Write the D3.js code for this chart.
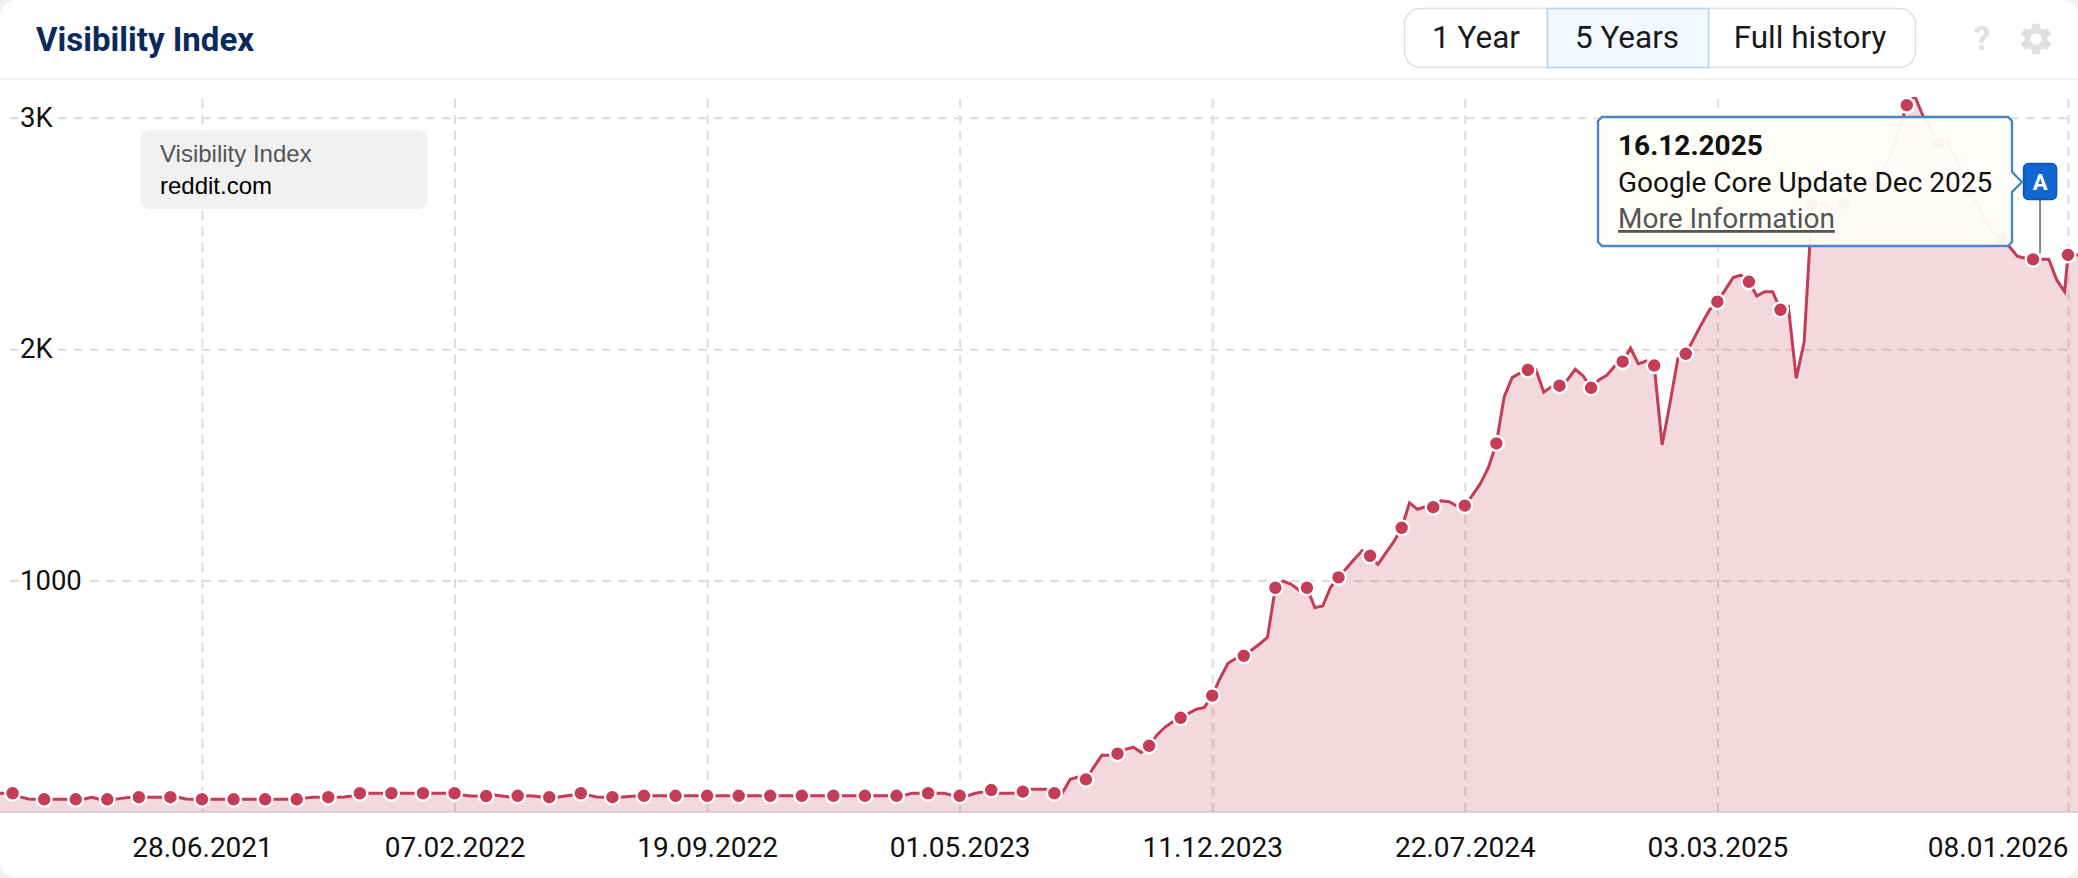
<!DOCTYPE html>
<html>
<head>
<meta charset="utf-8">
<title>Visibility Index</title>
<script src="https://cdn.jsdelivr.net/npm/d3@7"></script>
<style>
  html, body { margin: 0; padding: 0; background: #f0f0f0; }
  svg { display: block; font-family: Roboto, sans-serif; }
</style>
</head>
<body>
<div id="chart"></div>
<script>
// weekly values, first one is 28.12.2020, one row = 4 weeks
const weeklyValues = [
  81, 81,
  81, 65, 56, 55,
  55, 55, 55, 55,
  55, 55, 64, 55,
  55, 55, 60, 64,
  64, 64, 64, 64,
  64, 64, 56, 55,
  55, 55, 55, 55,
  55, 55, 55, 55,
  55, 55, 55, 55,
  55, 60, 64, 64,
  64, 64, 65, 69,
  81, 81, 81, 81,
  81, 81, 81, 81,
  81, 81, 81, 81,
  81, 73, 69, 69,
  69, 73, 69, 65,
  70, 70, 69, 65,
  64, 64, 69, 73,
  81, 73, 65, 64,
  64, 64, 67, 69,
  70, 70, 70, 70,
  70, 70, 70, 70,
  70, 70, 70, 70,
  70, 70, 70, 70,
  70, 70, 70, 70,
  70, 70, 70, 70,
  70, 70, 70, 70,
  70, 70, 70, 70,
  70, 73, 81, 81,
  81, 81, 81, 73,
  70, 70, 81, 87,
  95, 81, 81, 81,
  88, 98, 98, 98,
  81, 81, 141, 151,
  141, 194, 245, 245,
  252, 271, 280, 258,
  286, 333, 366, 390,
  407, 426, 444, 452,
  503, 578, 643, 664,
  675, 700, 726, 755,
  969, 998, 984, 959,
  969, 883, 890, 971,
  1014, 1053, 1092, 1129,
  1107, 1070, 1120, 1168,
  1228, 1336, 1308, 1319,
  1317, 1345, 1341, 1322,
  1324, 1370, 1420, 1489,
  1593, 1795, 1877, 1896,
  1910, 1913, 1814, 1838,
  1842, 1867, 1913, 1884,
  1833, 1867, 1887, 1927,
  1946, 2004, 1936, 1949,
  1929, 1586, 1766, 1960,
  1980, 2044, 2109, 2169,
  2205, 2256, 2309, 2320,
  2291, 2230, 2248, 2248,
  2170, 2183, 1874, 2032,
  2623, 2630, 2613, 2598,
  2630, 2688, 2702, 2709,
  2714, 2774, 2847, 2947,
  3054, 3094, 3012, 2956,
  2889, 2904, 2839, 2767,
  2680, 2623, 2551, 2501,
  2475, 2443, 2402, 2393,
  2388, 2388, 2388, 2299,
  2248
];
// the two newest values are off the weekly rhythm
const latestDates = ['08.01.2026', '15.01.2026', '22.01.2026'];
const latestValues = [2407, 2407, 2407];

const xTickLabels = ['28.06.2021', '07.02.2022', '19.09.2022', '01.05.2023', '11.12.2023', '22.07.2024', '03.03.2025', '08.01.2026'];
const yTickValues = [1000, 2000, 3000];
const yTickLabels = ['1000', '2K', '3K'];
const rangeLabels = ['1 Year', '5 Years', 'Full history'];
const flagDate = '16.12.2025';
const flagTitle = 'Google Core Update Dec 2025';

const width = 2078;
const height = 878;
const parseDate = d3.timeParse('%d.%m.%Y');

const startDate = parseDate('28.12.2020');
const points = weeklyValues.map((v, i) => ({ date: d3.timeDay.offset(startDate, i * 7), value: v, dot: i >= 2 && (i - 2) % 4 === 0 && i < weeklyValues.length - 1 }));
latestDates.forEach((d, i) => points.push({ date: parseDate(d), value: latestValues[i], dot: i === 0 }));

const xScale = d3.scaleTime()
  .domain([parseDate('28.06.2021'), parseDate('08.01.2026')])
  .range([202, 2068]);
const yScale = d3.scaleLinear()
  .domain([0, 3000])
  .range([812, 117.7]);

const svg = d3.select('#chart').append('svg')
  .attr('width', width)
  .attr('height', height);

svg.append('rect')
  .attr('width', width).attr('height', height)
  .attr('rx', 16)
  .attr('fill', '#fff');

// header
svg.append('line')
  .attr('x1', 0).attr('x2', width)
  .attr('y1', 79).attr('y2', 79)
  .attr('stroke', '#f2f2f2').attr('stroke-width', 2);

svg.append('text')
  .attr('x', 36).attr('y', 51)
  .attr('font-size', 33).attr('font-weight', 700)
  .attr('fill', '#0b2a5c')
  .text('Visibility Index');

svg.append('rect')
  .attr('x', 1404.5).attr('y', 8.5)
  .attr('width', 511).attr('height', 59)
  .attr('rx', 16)
  .attr('fill', '#fff').attr('stroke', '#e0e0e0').attr('stroke-width', 1.5);
svg.append('rect')
  .attr('x', 1547.5).attr('y', 8.5)
  .attr('width', 161).attr('height', 59)
  .attr('fill', '#f3f8ff').attr('stroke', '#b3d1f6').attr('stroke-width', 1.5);

const rangeCentres = [1476, 1627, 1810];
svg.selectAll('.range')
  .data(rangeLabels)
  .enter().append('text')
  .attr('class', 'range')
  .attr('x', (d, i) => rangeCentres[i])
  .attr('y', 48)
  .attr('text-anchor', 'middle')
  .attr('font-size', 31.5)
  .attr('fill', '#1a1a1a')
  .text(d => d);

svg.append('text')
  .attr('x', 1982).attr('y', 50)
  .attr('text-anchor', 'middle')
  .attr('font-size', 33).attr('font-weight', 700)
  .attr('fill', '#e0e0e0')
  .text('?');
svg.append('path')
  .attr('transform', 'translate(2016.8,19.8) scale(1.6)')
  .attr('fill', '#e0e0e0')
  .attr('d', 'M19.14 12.94c.04-.3.06-.61.06-.94 0-.32-.02-.64-.07-.94l2.03-1.58c.18-.14.23-.41.12-.61l-1.92-3.32c-.12-.22-.37-.29-.59-.22l-2.39.96c-.5-.38-1.03-.7-1.62-.94l-.36-2.54c-.04-.24-.24-.41-.48-.41h-3.84c-.24 0-.43.17-.47.41l-.36 2.54c-.59.24-1.13.57-1.62.94l-2.39-.96c-.22-.08-.47 0-.59.22L2.74 8.87c-.12.21-.08.47.12.61l2.03 1.58c-.05.3-.09.63-.09.94s.02.64.07.94l-2.03 1.58c-.18.14-.23.41-.12.61l1.92 3.32c.12.22.37.29.59.22l2.39-.96c.5.38 1.03.7 1.62.94l.36 2.54c.05.24.24.41.48.41h3.84c.24 0 .44-.17.47-.41l.36-2.54c.59-.24 1.13-.56 1.62-.94l2.39.96c.22.08.47 0 .59-.22l1.92-3.32c.12-.22.07-.47-.12-.61l-2.01-1.58zM12 15.6c-1.98 0-3.6-1.62-3.6-3.6s1.62-3.6 3.6-3.6 3.6 1.62 3.6 3.6-1.62 3.6-3.6 3.6z');

// axes, tick lines are the grid
const xTickDates = xTickLabels.map(parseDate);
const xAxis = d3.axisBottom(xScale)
  .tickValues(xTickDates)
  .tickFormat(d3.timeFormat('%d.%m.%Y'))
  .tickSizeInner(-714)
  .tickSizeOuter(0)
  .tickPadding(25);
const yAxis = d3.axisLeft(yScale)
  .tickValues(yTickValues)
  .tickFormat((d, i) => yTickLabels[i])
  .tickSize(-2060);

const gx = svg.append('g').attr('id', 'x-axis').attr('transform', 'translate(0,812)').call(xAxis);
const gy = svg.append('g').attr('id', 'y-axis').attr('transform', 'translate(10,0)').call(yAxis);

gx.select('.domain').remove();
gy.select('.domain').remove();
svg.selectAll('.tick line')
  .attr('stroke', '#dddddd')
  .attr('stroke-width', 2)
  .attr('stroke-dasharray', '9,7');
gx.selectAll('text')
  .attr('font-family', 'Roboto, sans-serif')
  .attr('font-size', 28)
  .attr('fill', '#111');
gx.selectAll('.tick').filter((d, i) => i === xTickLabels.length - 1)
  .select('text')
  .attr('text-anchor', 'end')
  .attr('x', 0);
gy.selectAll('text')
  .attr('font-family', 'Roboto, sans-serif')
  .attr('font-size', 27.5)
  .attr('fill', '#111')
  .attr('text-anchor', 'start')
  .attr('x', 10)
  .attr('dy', '0.32em')
  .attr('stroke', '#fff')
  .attr('stroke-width', 6)
  .attr('paint-order', 'stroke');

// series
svg.append('clipPath').attr('id', 'plot-clip')
  .append('rect').attr('x', 0).attr('y', 97).attr('width', width).attr('height', 715);

const plot = svg.append('g').attr('clip-path', 'url(#plot-clip)');

const area = d3.area()
  .x(d => xScale(d.date))
  .y0(yScale(0))
  .y1(d => yScale(d.value));
const line = d3.line()
  .x(d => xScale(d.date))
  .y(d => yScale(d.value));

plot.append('path')
  .datum(points)
  .attr('d', area)
  .attr('fill', 'rgba(196,60,86,0.2)');
plot.append('path')
  .datum(points)
  .attr('d', line)
  .attr('fill', 'none')
  .attr('stroke', '#c43c56')
  .attr('stroke-width', 3);
plot.selectAll('circle')
  .data(points.filter(d => d.dot))
  .enter().append('circle')
  .attr('cx', d => xScale(d.date))
  .attr('cy', d => yScale(d.value))
  .attr('r', 7.4)
  .attr('fill', '#c43c56')
  .attr('stroke', '#fff')
  .attr('stroke-width', 2.4);

// baseline on top of the fill
svg.append('line')
  .attr('x1', 0).attr('x2', width)
  .attr('y1', 812).attr('y2', 812)
  .attr('stroke', 'rgba(190,190,190,0.6)').attr('stroke-width', 2);

// legend box
svg.append('rect')
  .attr('x', 140.5).attr('y', 130)
  .attr('width', 287).attr('height', 79)
  .attr('rx', 9)
  .attr('fill', 'rgba(240,240,240,0.92)');
svg.append('text')
  .attr('x', 160).attr('y', 162)
  .attr('font-family', '"Liberation Sans", Arial, sans-serif')
  .attr('font-size', 24)
  .attr('fill', '#555')
  .text('Visibility Index');
svg.append('text')
  .attr('x', 160).attr('y', 194)
  .attr('font-family', '"Liberation Sans", Arial, sans-serif')
  .attr('font-size', 24)
  .attr('fill', '#000')
  .text('reddit.com');

// event flag and its note, the flag sits a little left of its date
const flagX = xScale(parseDate(flagDate)) - 2;
const flagY = yScale(points.find(d => d.date >= parseDate(flagDate)).value);

svg.append('line')
  .attr('x1', flagX).attr('x2', flagX)
  .attr('y1', 200).attr('y2', flagY - 6)
  .attr('stroke', '#888').attr('stroke-width', 2);
svg.append('rect')
  .attr('x', flagX - 16.5).attr('y', 163.5)
  .attr('width', 33).attr('height', 36)
  .attr('rx', 5)
  .attr('fill', '#1166d2').attr('stroke', '#0e55ad').attr('stroke-width', 1.5);
svg.append('text')
  .attr('x', flagX).attr('y', 190)
  .attr('text-anchor', 'middle')
  .attr('font-size', 22).attr('font-weight', 700)
  .attr('fill', '#fff')
  .text('A');

svg.append('path')
  .attr('d', d3.line()([[1602, 117], [2008, 117], [2012, 121], [2012, 172], [2022, 182], [2012, 192], [2012, 242], [2008, 246], [1602, 246], [1598, 242], [1598, 121]]) + 'Z')
  .attr('fill', 'rgba(255,253,248,0.95)')
  .attr('stroke', '#4a86c8')
  .attr('stroke-width', 2.4);
svg.append('text')
  .attr('x', 1618).attr('y', 155)
  .attr('font-size', 28).attr('font-weight', 700)
  .attr('fill', '#111')
  .text(flagDate);
svg.append('text')
  .attr('x', 1618).attr('y', 192)
  .attr('font-size', 28)
  .attr('fill', '#111')
  .text(flagTitle);
svg.append('text')
  .attr('x', 1618).attr('y', 228)
  .attr('font-size', 28)
  .attr('fill', '#555')
  .attr('text-decoration', 'underline')
  .text('More Information');
</script>
</body>
</html>
